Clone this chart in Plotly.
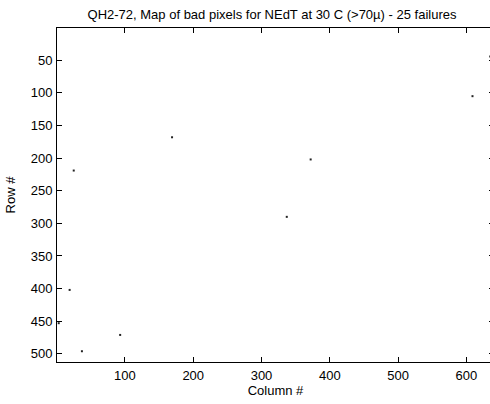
import plotly.graph_objects as go

# Bad pixel locations (column, row)
columns = [169, 25, 372, 609, 635, 19, 93, 37, 337, 3]
rows = [168, 219, 202, 105, 44, 402, 471, 496, 290, 453]

x_ticks = [100, 200, 300, 400, 500, 600]
y_ticks = [50, 100, 150, 200, 250, 300, 350, 400, 450, 500]

title_text = "QH2-72, Map of bad pixels for NEdT at 30 C (>70\u00b5) - 25 failures"

FONT = "Liberation Sans, Arial, Helvetica, sans-serif"
FS = 13

fig = go.Figure(
    go.Scatter(
        x=columns, y=rows, mode="markers",
        marker=dict(symbol="square", size=2, color="#222222", line=dict(width=0)),
        cliponaxis=False, hoverinfo="x+y",
    )
)

axis_common = dict(
    showgrid=False, zeroline=False, showline=True, linecolor="black", linewidth=1,
    mirror="ticks", ticks="inside", ticklen=5, tickwidth=1, tickcolor="black",
    tickfont=dict(family=FONT, size=FS, color="black"),
)

fig.update_layout(
    width=500, height=404,
    margin=dict(l=57, r=6, t=28, b=42),
    paper_bgcolor="white", plot_bgcolor="white",
    showlegend=False,
    font=dict(family=FONT, size=FS, color="black"),
    title=dict(text=title_text, x=272 / 500, xref="container", xanchor="center",
               y=1 - 14 / 404, yref="container", yanchor="middle",
               font=dict(family=FONT, size=FS, color="black")),
    xaxis=dict(range=[0.5, 640.5], tickvals=x_ticks,
               title=dict(text="Column #", standoff=4,
                          font=dict(family=FONT, size=FS, color="black")),
               ticklabelstandoff=1, **axis_common),
    yaxis=dict(range=[512.5, 0.5], tickvals=y_ticks,
               title=dict(text="Row #", standoff=12,
                          font=dict(family=FONT, size=FS, color="black")),
               ticklabelstandoff=1, **axis_common),
)

fig.write_html(
    "out.html",
    config={"displayModeBar": False},
    post_script="document.body.style.margin='0';document.body.style.overflow='hidden';"
                "document.documentElement.style.overflow='hidden';",
)
